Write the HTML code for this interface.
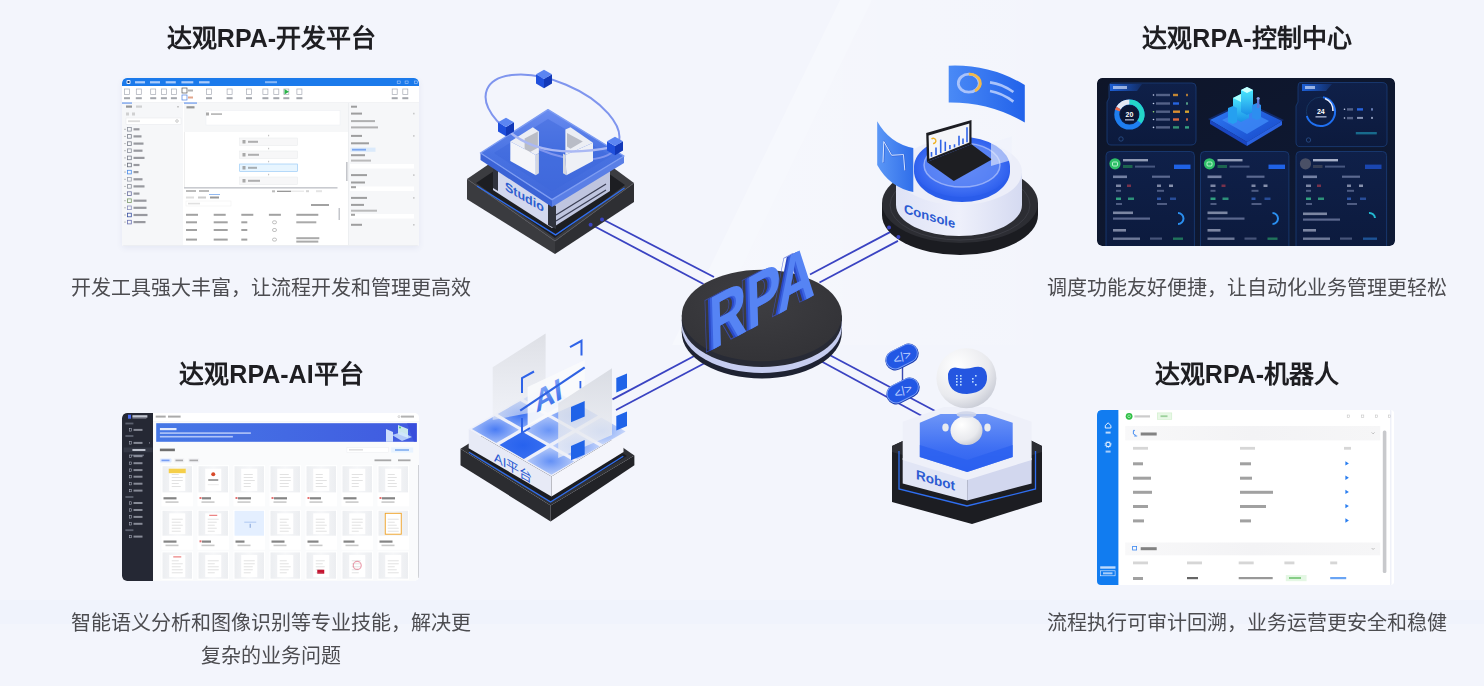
<!DOCTYPE html>
<html lang="zh-CN">
<head>
<meta charset="utf-8">
<style>
*{margin:0;padding:0;box-sizing:border-box;}
html,body{width:1484px;height:686px;overflow:hidden;background:#f3f5fc;}
body{font-family:"Liberation Sans",sans-serif;position:relative;}
.abs{position:absolute;}
.h{position:absolute;font-size:25px;line-height:25px;font-weight:bold;color:#1e1e22;text-align:center;white-space:nowrap;will-change:transform;}
.c{position:absolute;font-size:20px;line-height:33px;color:#4c4c50;text-align:center;white-space:nowrap;will-change:transform;}
.win{position:absolute;overflow:hidden;}
</style>
</head>
<body>
<div id="bg" class="abs" style="left:0;top:0;width:1484px;height:686px;"></div>
<!--CENTER-->
<svg class="abs" style="left:0;top:0" width="1484" height="686" viewBox="0 0 1484 686">
<defs>
  <linearGradient id="gBlackTop" x1="0" y1="0" x2="1" y2="1">
    <stop offset="0" stop-color="#3a3b41"/><stop offset="1" stop-color="#27282d"/>
  </linearGradient>
  <radialGradient id="gRpaTop" cx="0.45" cy="0.35" r="0.7">
    <stop offset="0" stop-color="#3e3e42"/><stop offset="1" stop-color="#323236"/>
  </radialGradient>
  <linearGradient id="gSlab" x1="0" y1="0" x2="0" y2="1">
    <stop offset="0" stop-color="#6a8cf0"/><stop offset="0.5" stop-color="#4872e2"/><stop offset="1" stop-color="#4068da"/>
  </linearGradient>
  <linearGradient id="gBluePanel" x1="0" y1="0" x2="1" y2="0">
    <stop offset="0" stop-color="#4a8af6"/><stop offset="1" stop-color="#2262ea"/>
  </linearGradient>
  <radialGradient id="gBlueDisc" cx="0.5" cy="0.5" r="0.5">
    <stop offset="0" stop-color="#5d86f6"/><stop offset="0.8" stop-color="#3c6cf2"/><stop offset="1" stop-color="#2f60ee"/>
  </radialGradient>
  <linearGradient id="gWhiteCyl" x1="0" y1="0" x2="1" y2="0">
    <stop offset="0" stop-color="#dfe3f6"/><stop offset="0.5" stop-color="#eef0fb"/><stop offset="1" stop-color="#d5daf1"/>
  </linearGradient>
  <radialGradient id="gHead" cx="0.35" cy="0.3" r="0.75">
    <stop offset="0" stop-color="#ffffff"/><stop offset="0.7" stop-color="#e9eaee"/><stop offset="1" stop-color="#c9ccd6"/>
  </radialGradient>
  <linearGradient id="gHexBlue" x1="0" y1="0" x2="0" y2="1">
    <stop offset="0" stop-color="#6d95f7"/><stop offset="0.6" stop-color="#3e6ff3"/><stop offset="1" stop-color="#2c60f0"/>
  </linearGradient>
  <linearGradient id="gGlass" x1="0" y1="0" x2="1" y2="1">
    <stop offset="0" stop-color="#eef0f6" stop-opacity="0.95"/><stop offset="1" stop-color="#dfe3ee" stop-opacity="0.85"/>
  </linearGradient>
  <linearGradient id="gCube" x1="0" y1="0" x2="1" y2="1">
    <stop offset="0" stop-color="#8fb0ff"/><stop offset="1" stop-color="#3366ee"/>
  </linearGradient>
</defs>

<!-- background light diagonal band -->
<linearGradient id="gBand" x1="0" y1="0" x2="1" y2="0"><stop offset="0" stop-color="#ffffff" stop-opacity="0.25"/><stop offset="0.5" stop-color="#ffffff" stop-opacity="0.1"/><stop offset="1" stop-color="#ffffff" stop-opacity="0"/></linearGradient>
<polygon points="672,345 840,0 872,0 704,345" fill="#ffffff" opacity="0.3"/>
<polygon points="704,345 872,0 1120,0 1120,345" fill="url(#gBand)"/>
<rect x="0" y="600" width="1484" height="24" fill="#e8eefb" opacity="0.25"/>

<!-- connection lines -->
<g stroke="#3a43c2" stroke-width="1.8" fill="none">
  <line x1="591" y1="224.5" x2="703.5" y2="284"/>
  <line x1="602" y1="219" x2="714" y2="277"/>
  <line x1="810" y1="274.5" x2="891" y2="231.6"/>
  <line x1="819.5" y1="282.5" x2="898" y2="240.9"/>
  <line x1="698" y1="354" x2="612.5" y2="399.4"/>
  <line x1="708.7" y1="361" x2="616" y2="410"/>
  <line x1="817" y1="359" x2="922" y2="416"/>
  <line x1="827.7" y1="354" x2="937" y2="412"/>
</g>

<!-- ================= STUDIO ================= -->
<g id="studio">
  <!-- black base -->
  <polygon points="467,179 555,241 555,254 467,199.3" fill="#3a3b3f"/>
  <polygon points="555,241 634,183 634,202 555,254" fill="#2e2f33"/>
  <polygon points="467,179 551,122 634,183 555,241" fill="#3b3c40"/>
  <polygon points="476,183 551,133 625,185 555,238" fill="#1d1e22"/>
  <polyline points="467.5,179.3 555,241 633.5,183.3" fill="none" stroke="#55565c" stroke-width="0.8"/>
  <polyline points="477,186 555.6,234.9 624.5,188" fill="none" stroke="#2f6ef0" stroke-width="1.3"/>
  <!-- building -->
  <polygon points="493,160 552,198 552,228 493,190" fill="#d3d8ee"/>
  <polygon points="552,198 610,161 610,191 552,228" fill="#bfc5df"/>
  <g stroke="#3b3f55" stroke-width="1.3">
    <line x1="556" y1="215" x2="606" y2="184"/>
    <line x1="556" y1="221" x2="606" y2="190"/>
  </g>
  <polygon points="548,202 556,206 556,229 548,225" fill="#30333d"/>
  <polygon points="493,165 498,168 498,191 493,188" fill="#30333d"/>
  <text x="0" y="0" font-family="Liberation Sans" font-weight="bold" font-size="12.5" fill="#2d5ed0" transform="matrix(1,0.58,0,1,505,190)">Studio</text>
  <!-- blue slab -->
  <polygon points="480.5,153 552,199.7 552,207 480.5,160" fill="#3b63d6"/>
  <polygon points="552,199.7 624,156 624,163 552,207" fill="#5a7fe6"/>
  <polygon points="480.5,153 548,109.6 624,156 552,199.7" fill="url(#gSlab)" stroke="#7d9cf2" stroke-width="1.4" stroke-linejoin="round"/>
  <polygon points="494,153 548,119 611,156 552,191" fill="#3d67dc" opacity="0.5"/>
  <!-- orbit back half -->
  <ellipse cx="552.5" cy="117" rx="71" ry="35" transform="rotate(22.8 552.5 117)" fill="none" stroke="#7f95ee" stroke-width="2"/>
  <!-- left U block -->
  <polygon points="510.3,141.6 532.8,127.3 538.9,131.4 538.9,152.9 535.8,154.9" fill="#eceef4"/>
  <polygon points="524.6,138.6 537.9,131.4 537.9,147.8 524.6,155" fill="#b9bcc6"/>
  <polygon points="510.3,141.6 535.8,154.9 535.8,175.3 510.3,161" fill="#f4f5f9"/>
  <polygon points="535.8,154.9 538.9,152.9 538.9,173.3 535.8,175.3" fill="#d4d7e0"/>
  <!-- right U block -->
  <polygon points="565.4,129.4 570.5,127.3 593,142.7 565.4,154.9" fill="#eceef4"/>
  <polygon points="567,133 582.8,141.6 570.5,148.8 567,146.5" fill="#b9bcc6"/>
  <polygon points="565.4,154.9 593,142.7 593,161 566.4,175.3" fill="#eef0f6"/>
  <polygon points="563,153.5 565.4,154.9 566.4,175.3 563,173.3" fill="#d4d7e0"/>
  <!-- orbit front arc -->
  <path d="M 506,128.5 Q 540,162 614.8,146.6" fill="none" stroke="#aab8f4" stroke-width="2.4"/>
  <!-- cubes -->
  <g>
    <polygon points="536,74.36 544,79 544,88.2 536,83.56" fill="#1f4fdc"/>
    <polygon points="544,79 552,74.36 552,83.56 544,88.2" fill="#1238b8"/>
    <polygon points="536,74.36 544,69.72 552,74.36 544,79" fill="#5b85f2"/>
    <polygon points="498,122.36 506,127 506,136.2 498,131.56" fill="#1f4fdc"/>
    <polygon points="506,127 514,122.36 514,131.56 506,136.2" fill="#1238b8"/>
    <polygon points="498,122.36 506,117.72 514,122.36 506,127" fill="#5b85f2"/>
    <polygon points="607,141.36 615,146 615,155.2 607,150.56" fill="#1f4fdc"/>
    <polygon points="615,146 623,141.36 623,150.56 615,155.2" fill="#1238b8"/>
    <polygon points="607,141.36 615,136.72 623,141.36 615,146" fill="#5b85f2"/>
  </g>
  <circle cx="590.6" cy="224.8" r="2" fill="#3a43c2"/>
  <circle cx="602" cy="219.6" r="2" fill="#3a43c2"/>
</g>

<!-- ================= RPA disc ================= -->
<g id="rpa">
  <ellipse cx="761.8" cy="332.7" rx="80" ry="45.8" fill="#1e2232"/>
  <rect x="681.8" y="327.2" width="160" height="5.5" fill="#1e2232"/>
  <ellipse cx="761.8" cy="327.2" rx="80" ry="45.8" fill="#c6cdf0"/>
  <rect x="681.8" y="321.1" width="160" height="6.1" fill="#c6cdf0"/>
  <ellipse cx="761.8" cy="321.1" rx="80" ry="45.8" fill="#272a35"/>
  <rect x="681.8" y="315.5" width="160" height="5.6" fill="#272a35"/>
  <ellipse cx="761.8" cy="315.5" rx="80" ry="45.8" fill="url(#gRpaTop)"/>
  <!-- letters: extrusion -->
  <g font-family="Liberation Sans" font-weight="bold" font-size="75">
    <text transform="matrix(0.69,-0.37,0.03,1,703,354)" fill="none" stroke="#3b55d6" stroke-width="1" opacity="0.7">RPA</text>
    <text transform="matrix(0.69,-0.37,0.03,1,706,353)" fill="#2a48c4">RPA</text>
    <text transform="matrix(0.69,-0.37,0.03,1,708,352)" fill="#3a62e0">RPA</text>
    <text transform="matrix(0.69,-0.37,0.03,1,710,351)" fill="#5684f4">RPA</text>
  </g>
</g>

<!-- ================= CONSOLE ================= -->
<g id="console">
  <ellipse cx="960" cy="215" rx="78" ry="40" fill="#1b1c21"/>
  <rect x="882" y="203" width="156" height="12" fill="#1b1c21"/>
  <ellipse cx="960" cy="203" rx="78" ry="40" fill="#2c2d33"/>
  <ellipse cx="960" cy="205" rx="70" ry="35" fill="none" stroke="#3b3c44" stroke-width="1"/>
  <!-- white cylinder -->
  <ellipse cx="959" cy="205" rx="63" ry="31" fill="url(#gWhiteCyl)"/>
  <rect x="896" y="173" width="126" height="32" fill="url(#gWhiteCyl)"/>
  <ellipse cx="959" cy="172" rx="63" ry="33" fill="#eceef9"/>
  <ellipse cx="962" cy="171" rx="48" ry="31" fill="#2a5cea"/>
  <ellipse cx="962" cy="167" rx="48" ry="30" fill="url(#gBlueDisc)"/>
  <ellipse cx="962" cy="165" rx="38" ry="22" fill="#6a90f6" opacity="0.55"/>
  <ellipse cx="962" cy="165" rx="38" ry="22" fill="none" stroke="#dfe6ff" stroke-width="1.5" opacity="0.5"/>
  <text x="0" y="0" font-family="Liberation Sans" font-weight="bold" font-size="13" fill="#2c5bd2" transform="matrix(1,0.3,0,1,904,213)">Console</text>
  <!-- laptop -->
  <polygon points="927,162 971.5,144.3 991.9,159.4 953.8,181" fill="#1d1e22"/>
  <polygon points="926.2,133 971.5,120 971.5,144.3 927,162" fill="#1c1d22"/>
  <polygon points="928.6,135.5 969.3,123.6 969.3,142.6 929.3,158.8" fill="#f4f5f8"/>
  <g stroke="#2f63e6" stroke-width="1.6">
    <line x1="931.5" y1="156.7" x2="931.5" y2="152"/>
    <line x1="936" y1="154.9" x2="936" y2="147.6"/>
    <line x1="940.7" y1="153.0" x2="940.7" y2="139.7"/>
    <line x1="945.3" y1="151.1" x2="945.3" y2="141.7"/>
    <line x1="949.9" y1="149.3" x2="949.9" y2="145"/>
    <line x1="954.5" y1="147.4" x2="954.5" y2="144.3"/>
    <line x1="959" y1="145.6" x2="959" y2="135.7"/>
    <line x1="963" y1="144.0" x2="963" y2="138.4"/>
    <line x1="967" y1="142.3" x2="967" y2="127.2"/>
  </g>
  <path d="M 931.5,139 a 2.6 2.6 0 1 1 1.5,4.5" stroke="#f0b429" stroke-width="1.4" fill="none"/>
  <!-- right glass panel -->
  <polygon points="991,143 1011.6,136.6 1011.6,160 991,166" fill="#eef1fb" opacity="0.6"/>
  <!-- floating top-right panel -->
  <path d="M 948.7,65.7 Q 990,64 1024.8,85 L 1024.8,122.6 Q 990,102 948.7,102.5 Z" fill="url(#gBluePanel)"/>
  <ellipse cx="968.8" cy="83.2" rx="10.5" ry="9" fill="none" stroke="#a9c3fb" stroke-width="2.8"/>
  <path d="M 968.8,74.2 A 10.5 9 0 0 1 975,91" fill="none" stroke="#f2b94a" stroke-width="2.8"/>
  <g stroke="#a9c3fb" stroke-width="2.6" fill="none">
    <path d="M 990,82.4 Q 1002,84 1013.4,92"/>
    <path d="M 990,91 Q 1002,93 1013.4,101.6"/>
  </g>
  <!-- floating left panel -->
  <linearGradient id="gMpanel" x1="0" y1="0" x2="1" y2="0"><stop offset="0" stop-color="#5b97f6"/><stop offset="1" stop-color="#2f6eea"/></linearGradient>
  <path d="M 877.2,121.2 Q 889.4,143.2 913.3,148 L 913.3,192 Q 889.4,187.2 877.2,165 Z" fill="url(#gMpanel)"/>
  <path d="M 883.6,163 L 884.4,142 L 892.3,155.8 L 904.1,155.1 L 905.4,170.9" fill="none" stroke="#2556d0" stroke-width="1.2" opacity="0.8"/>
  <path d="M 883,162.5 L 883.8,141.5 L 891.7,155.3 L 903.5,154.6 L 904.8,170.4" fill="none" stroke="#d6e4ff" stroke-width="1"/>
  <circle cx="889" cy="227.6" r="2" fill="#3a43c2"/>
  <circle cx="898.4" cy="237" r="2" fill="#3a43c2"/>
</g>

<!-- ================= AI PLATFORM ================= -->
<g id="ai">
  <!-- black base -->
  <polygon points="460.5,448.7 550.6,505.5 550.6,521.4 460.5,465.3" fill="#2b2c30"/>
  <polygon points="550.6,505.5 634.4,455.6 634.4,465.3 550.6,521.4" fill="#222327"/>
  <polygon points="460.5,448.7 547,395 634.4,455.6 550.6,505.5" fill="#303135"/>
  <polygon points="468,450 547,402 627,456 550.6,501" fill="#1c1d21"/>
  <polyline points="468.9,452.2 550.6,502 623.3,456.3" fill="none" stroke="#2f6ef0" stroke-width="1.3"/>
  <!-- white slab -->
  <polygon points="468.7,429.1 551.5,476.5 551.5,496.5 468.7,448.3" fill="#e7eaf6"/>
  <polygon points="551.5,476.5 623.5,432.8 623.5,452 551.5,496.5" fill="#f4f5fb"/>
  <polygon points="468.7,429.1 546,384 623.5,432.8 551.5,476.5" fill="#eef0fa"/>
  <!-- cube grid (3x3) -->
  <defs>
    <radialGradient id="t00" cx="0.5" cy="0.5" r="0.6"><stop offset="0" stop-color="#4a7cf4"/><stop offset="1" stop-color="#b3c8f9"/></radialGradient>
    <radialGradient id="t01" cx="0.5" cy="0.5" r="0.6"><stop offset="0" stop-color="#2762ee"/><stop offset="1" stop-color="#3a70f0"/></radialGradient>
    <radialGradient id="t02" cx="0.5" cy="0.5" r="0.6"><stop offset="0" stop-color="#6390f6"/><stop offset="1" stop-color="#c5d5fa"/></radialGradient>
    <radialGradient id="t10" cx="0.5" cy="0.5" r="0.6"><stop offset="0" stop-color="#3a70f2"/><stop offset="1" stop-color="#95b4f8"/></radialGradient>
    <radialGradient id="t11" cx="0.5" cy="0.5" r="0.6"><stop offset="0" stop-color="#6a95f6"/><stop offset="1" stop-color="#b8cbf9"/></radialGradient>
    <radialGradient id="t12" cx="0.5" cy="0.5" r="0.6"><stop offset="0" stop-color="#7aa0f7"/><stop offset="1" stop-color="#cfdbfa"/></radialGradient>
    <radialGradient id="t20" cx="0.5" cy="0.5" r="0.6"><stop offset="0" stop-color="#7099f6"/><stop offset="1" stop-color="#c0d0f9"/></radialGradient>
    <radialGradient id="t21" cx="0.5" cy="0.5" r="0.6"><stop offset="0" stop-color="#4d80f4"/><stop offset="1" stop-color="#a8c0f9"/></radialGradient>
    <radialGradient id="t22" cx="0.5" cy="0.5" r="0.6"><stop offset="0" stop-color="#86aaf8"/><stop offset="1" stop-color="#d6e0fa"/></radialGradient>
  </defs>
  <polygon points="471.9,429.1 494.6,415.9 518.9,429.8 496.2,443.1" fill="url(#t00)"/>
  <polygon points="499.5,444.9 522.2,431.7 546.5,445.6 523.8,458.9" fill="url(#t01)"/>
  <polygon points="527.1,460.7 549.8,447.5 574.1,461.4 551.4,474.7" fill="url(#t02)"/>
  <polygon points="497.7,414.1 520.3,400.9 544.6,414.8 522.0,428.0" fill="url(#t10)"/>
  <polygon points="525.3,429.9 547.9,416.7 572.2,430.6 549.6,443.8" fill="url(#t11)"/>
  <polygon points="552.9,445.7 575.5,432.5 599.8,446.4 577.2,459.6" fill="url(#t12)"/>
  <polygon points="523.4,399.1 546.1,385.8 570.4,399.8 547.7,413.0" fill="url(#t20)"/>
  <polygon points="551.0,414.9 573.7,401.6 598.0,415.6 575.3,428.8" fill="url(#t21)"/>
  <polygon points="578.6,430.7 601.3,417.4 625.6,431.4 602.9,444.6" fill="url(#t22)"/>
  <linearGradient id="gPanelA" x1="0" y1="0" x2="0" y2="1"><stop offset="0" stop-color="#dcdee4" stop-opacity="0.95"/><stop offset="1" stop-color="#eceef3" stop-opacity="0.55"/></linearGradient>
  <linearGradient id="gPanelC" x1="0" y1="0" x2="0" y2="1"><stop offset="0" stop-color="#d8dbe2" stop-opacity="0.95"/><stop offset="1" stop-color="#eef0f5" stop-opacity="0.75"/></linearGradient>
  <linearGradient id="gAItext" x1="0" y1="0" x2="0" y2="1"><stop offset="0" stop-color="#8fb0f8"/><stop offset="1" stop-color="#2c64e8"/></linearGradient>
  <polygon points="492.7,367.3 545.6,333.5 545.6,410 492.7,420" fill="url(#gPanelA)"/>
  <polygon points="527.6,387 584.7,360 584.7,400 527.6,426" fill="#f9fafc" opacity="0.93"/>
  <text x="0" y="0" font-family="Liberation Sans" font-weight="bold" font-size="30" fill="url(#gAItext)" transform="matrix(0.9,-0.5,0.12,1,536,413)">AI</text>
  <line x1="520.2" y1="410.6" x2="584.7" y2="367.3" stroke="#2f62e2" stroke-width="2.2"/>
  <polyline points="522,393 522,378 534,371.5" fill="none" stroke="#2e63e8" stroke-width="2"/>
  <polyline points="570,347.2 581.5,340.8 581.5,355.6" fill="none" stroke="#2e63e8" stroke-width="2"/>
  <polyline points="522,418 522,432.8 530,428" fill="none" stroke="#2e63e8" stroke-width="2"/>
  <line x1="580.4" y1="381" x2="580.4" y2="388.4" stroke="#2e63e8" stroke-width="1.8"/>
  <polygon points="558.2,403.2 612,368.3 612,434.9 558.2,458" fill="url(#gPanelC)"/>
  <!-- blue squares -->
  <g fill="#1f63e8">
    <polygon points="616.3,378 627,373.6 627,388 616.3,392.6"/>
    <polygon points="616.3,416 627,411.6 627,426 616.3,430.6"/>
    <polygon points="571,407 584.7,401 584.7,416.5 571,422.2"/>
    <polygon points="571,446 584.7,440 584.7,454.5 571,460.2"/>
  </g>
  <text x="0" y="0" font-family="Liberation Sans" font-size="13" fill="#2c5bd2" transform="matrix(1,0.58,0,1,494,461)">AI平台</text>
</g>

<!-- ================= ROBOT ================= -->
<g id="robot">
  <polygon points="892,446 905,440 1030,440 1042,446 1042,502 972,524 892,502" fill="#1c1d22"/>
  <polygon points="892,446 905,440 1030,440 1042,446 1042,452 972,474 892,452" fill="#2c2d33"/>
  <polyline points="899,451 899,489 967,506 1035.5,489 1035.5,451" fill="none" stroke="#2f6ef0" stroke-width="1.3"/>
  <!-- white base lower faces -->
  <polygon points="902.7,458 967.2,478 967.2,500.5 902.7,483.4" fill="#e1e5f5"/>
  <polygon points="967.2,478 1031.6,458 1031.6,483.4 967.2,500.5" fill="#d2d7ee"/>
  <!-- glass walls & top -->
  <polygon points="902.7,421.8 944,407 990,407 1031.6,421.8 1031.6,460 967.2,480 902.7,460" fill="#eef0f9"/>
  <polygon points="919.8,422.7 940.6,414 986,414 1012.7,422.7 1012.7,457 967.2,472 919.8,457" fill="url(#gHexBlue)"/>
  <polygon points="919.8,445 967.2,460 1012.7,445 1012.7,457 967.2,472 919.8,457" fill="#2a5ff0" opacity="0.7"/>
  <text x="0" y="0" font-family="Liberation Sans" font-weight="bold" font-size="13.5" fill="#2c5bd2" transform="matrix(1,0.3,0,1,916,479)">Robot</text>
  <!-- robot body -->
  <ellipse cx="945.5" cy="427.5" rx="3.2" ry="4" fill="#e9ebf0"/>
  <ellipse cx="987.5" cy="427.5" rx="3.2" ry="4" fill="#e9ebf0"/>
  <ellipse cx="966.5" cy="430.5" rx="16" ry="14.5" fill="url(#gHead)"/>
  <ellipse cx="966.5" cy="414.5" rx="10" ry="3.2" fill="#cfd6ea" opacity="0.9"/>
  <!-- head -->
  <circle cx="966.4" cy="378.3" r="30" fill="url(#gHead)"/>
  <path d="M 948,374 Q 950,366 958,368 Q 966,370 975,367 Q 986,365 987,376 Q 988,392 967,394 Q 947,394 948,374 Z" fill="#2456e0"/>
  <g fill="#bfe0ff">
    <rect x="956" y="375" width="1.6" height="1.6"/><rect x="956" y="378" width="1.6" height="1.6"/><rect x="956" y="381" width="1.6" height="1.6"/><rect x="956" y="384" width="1.6" height="1.6"/>
    <rect x="960" y="375" width="1.6" height="1.6"/><rect x="960" y="378" width="1.6" height="1.6"/><rect x="960" y="381" width="1.6" height="1.6"/><rect x="960" y="384" width="1.6" height="1.6"/>
    <rect x="975" y="375" width="1.6" height="1.6"/><rect x="972" y="378" width="1.6" height="1.6"/><rect x="972" y="381" width="1.6" height="1.6"/><rect x="975" y="384" width="1.6" height="1.6"/>
  </g>
  <!-- code badges -->
  <line x1="902.5" y1="360" x2="902.5" y2="388" stroke="#3a48b0" stroke-width="1.4"/>
  <g transform="rotate(-27 902 357)">
    <rect x="884.5" y="347" width="35" height="20" rx="10" fill="#1a3cae"/>
    <rect x="885.5" y="347.5" width="33" height="18" rx="9" fill="#2257e4" stroke="#7ea2f8" stroke-width="0.9"/>
    <text x="902" y="361.5" font-family="Liberation Sans" font-size="13" fill="#b9cdff" text-anchor="middle">&lt;/&gt;</text>
  </g>
  <g transform="rotate(-27 903 391)">
    <rect x="885.5" y="381" width="35" height="20" rx="10" fill="#1a3cae"/>
    <rect x="886.5" y="381.5" width="33" height="18" rx="9" fill="#2257e4" stroke="#7ea2f8" stroke-width="0.9"/>
    <text x="903" y="395.5" font-family="Liberation Sans" font-size="13" fill="#b9cdff" text-anchor="middle">&lt;/&gt;</text>
  </g>
</g>
</svg>

<!--/CENTER-->

<div class="h" id="h1" style="left:71px;top:25.5px;width:401px;">达观RPA-开发平台</div>
<div class="h" id="h2" style="left:71px;top:361.5px;width:401px;">达观RPA-AI平台</div>
<div class="h" id="h3" style="left:1046.5px;top:25.5px;width:400px;">达观RPA-控制中心</div>
<div class="h" id="h4" style="left:1046.5px;top:361.5px;width:400px;">达观RPA-机器人</div>

<div class="c" id="c1" style="left:71px;top:272px;width:400px;">开发工具强大丰富，让流程开发和管理更高效</div>
<div class="c" id="c2" style="left:71px;top:607px;width:400px;">智能语义分析和图像识别等专业技能，解决更<br>复杂的业务问题</div>
<div class="c" id="c3" style="left:1047px;top:272px;width:400px;">调度功能友好便捷，让自动化业务管理更轻松</div>
<div class="c" id="c4" style="left:1047px;top:607px;width:400px;">流程执行可审计回溯，业务运营更安全和稳健</div>

<!-- window 1: dev studio -->
<div class="win" id="w1" style="left:122px;top:78px;width:297px;height:168px;background:#fff;border-radius:5px 5px 2px 2px;box-shadow:0 2px 6px rgba(60,80,140,0.08);">
<svg width="297" height="168" viewBox="0 0 297 168" style="display:block">
<rect x="0" y="0" width="297" height="168" fill="#ffffff"/>
<path d="M0,5 Q0,0 5,0 H292 Q297,0 297,5 V8 H0 Z" fill="#1b7aeb"/>
<rect x="4.5" y="2" width="4" height="4" rx="1" fill="#e8f0ff"/><rect x="5.5" y="3" width="2" height="2" fill="#1d3a70"/>
<rect x="13" y="3.2" width="10" height="2.2" fill="#cfe0ff" opacity="0.8"/>
<rect x="28" y="3.2" width="10" height="2.2" fill="#cfe0ff" opacity="0.8"/>
<rect x="43.7" y="3.2" width="10.099999999999994" height="2.2" fill="#cfe0ff" opacity="0.8"/>
<rect x="59.4" y="3.2" width="11.899999999999999" height="2.2" fill="#cfe0ff" opacity="0.8"/>
<rect x="77" y="3.2" width="10.599999999999994" height="2.2" fill="#cfe0ff" opacity="0.8"/>
<rect x="143" y="3.2" width="12" height="2" fill="#cfe0ff" opacity="0.6"/>
<rect x="275.2" y="3" width="3" height="2.5" fill="none" stroke="#cfe0ff" stroke-width="0.6" opacity="0.8"/>
<rect x="283.1" y="3" width="3" height="2.5" fill="none" stroke="#cfe0ff" stroke-width="0.6" opacity="0.8"/>
<rect x="292.3" y="3" width="3" height="2.5" fill="none" stroke="#cfe0ff" stroke-width="0.6" opacity="0.8"/>
<rect x="2.5" y="11" width="5" height="5.5" fill="none" stroke="#8a8f9c" stroke-width="0.7" opacity="0.75"/>
<rect x="2" y="19.2" width="6" height="2" fill="#5a5f6a" opacity="0.55"/>
<rect x="14.3" y="11" width="5" height="5.5" fill="none" stroke="#8a8f9c" stroke-width="0.7" opacity="0.75"/>
<rect x="13.8" y="19.2" width="6" height="2" fill="#5a5f6a" opacity="0.55"/>
<rect x="28.7" y="11" width="5" height="5.5" fill="none" stroke="#8a8f9c" stroke-width="0.7" opacity="0.75"/>
<rect x="28.2" y="19.2" width="6" height="2" fill="#5a5f6a" opacity="0.55"/>
<rect x="39.4" y="11" width="5" height="5.5" fill="none" stroke="#8a8f9c" stroke-width="0.7" opacity="0.75"/>
<rect x="38.9" y="19.2" width="6" height="2" fill="#5a5f6a" opacity="0.55"/>
<rect x="49.4" y="11" width="5" height="5.5" fill="none" stroke="#8a8f9c" stroke-width="0.7" opacity="0.75"/>
<rect x="48.9" y="19.2" width="6" height="2" fill="#5a5f6a" opacity="0.55"/>
<rect x="84.5" y="11" width="5" height="5.5" fill="none" stroke="#8a8f9c" stroke-width="0.7" opacity="0.75"/>
<rect x="84" y="19.2" width="6" height="2" fill="#5a5f6a" opacity="0.55"/>
<rect x="105.1" y="11" width="5" height="5.5" fill="none" stroke="#8a8f9c" stroke-width="0.7" opacity="0.75"/>
<rect x="104.6" y="19.2" width="6" height="2" fill="#5a5f6a" opacity="0.55"/>
<rect x="124.5" y="11" width="5" height="5.5" fill="none" stroke="#8a8f9c" stroke-width="0.7" opacity="0.75"/>
<rect x="124" y="19.2" width="6" height="2" fill="#5a5f6a" opacity="0.55"/>
<rect x="140.9" y="11" width="5" height="5.5" fill="none" stroke="#8a8f9c" stroke-width="0.7" opacity="0.75"/>
<rect x="140.4" y="19.2" width="6" height="2" fill="#5a5f6a" opacity="0.55"/>
<rect x="151.8" y="11" width="5" height="5.5" fill="none" stroke="#8a8f9c" stroke-width="0.7" opacity="0.75"/>
<rect x="151.3" y="19.2" width="6" height="2" fill="#5a5f6a" opacity="0.55"/>
<rect x="161.8" y="11" width="5" height="5.5" fill="none" stroke="#8a8f9c" stroke-width="0.7" opacity="0.75"/>
<rect x="161.3" y="19.2" width="6" height="2" fill="#5a5f6a" opacity="0.55"/>
<rect x="174.9" y="11" width="5" height="5.5" fill="none" stroke="#8a8f9c" stroke-width="0.7" opacity="0.75"/>
<rect x="174.4" y="19.2" width="6" height="2" fill="#5a5f6a" opacity="0.55"/>
<rect x="270.2" y="11" width="5" height="5.5" fill="none" stroke="#8a8f9c" stroke-width="0.7" opacity="0.75"/>
<rect x="269.7" y="19.2" width="6" height="2" fill="#5a5f6a" opacity="0.55"/>
<rect x="280.8" y="11" width="5" height="5.5" fill="none" stroke="#8a8f9c" stroke-width="0.7" opacity="0.75"/>
<rect x="280.3" y="19.2" width="6" height="2" fill="#5a5f6a" opacity="0.55"/>
<polygon points="162.5,11 162.5,16.5 167,13.75" fill="#2bb34a"/>
<rect x="60" y="10" width="5" height="5" fill="none" stroke="#555" stroke-width="0.7"/><rect x="66" y="11.5" width="5" height="2" fill="#666" opacity="0.5"/>
<rect x="60" y="17" width="5" height="5" fill="none" stroke="#4a7ee0" stroke-width="0.7"/><rect x="66" y="18.5" width="5" height="2" fill="#d06a40" opacity="0.6"/>
<rect x="0" y="24.5" width="297" height="0.6" fill="#e6e8ec"/>
<rect x="0" y="25" width="61" height="143" fill="#f6f7f9"/>
<rect x="0" y="24.6" width="10" height="0.9" fill="#3a78e8"/>
<rect x="4" y="27.5" width="6" height="2.2" fill="#555" opacity="0.6"/><rect x="14" y="27.5" width="6" height="2.2" fill="#999" opacity="0.4"/><rect x="55" y="28" width="2" height="1.5" fill="#999" opacity="0.5"/>
<rect x="4" y="34.5" width="3" height="3" fill="#aaa" opacity="0.5"/><rect x="10" y="34.5" width="3" height="3" fill="#aaa" opacity="0.5"/>
<rect x="4" y="40" width="55" height="6.5" fill="#ffffff" stroke="#e6e8ec" stroke-width="0.5"/><rect x="6" y="42.3" width="12" height="1.8" fill="#bbb" opacity="0.5"/><circle cx="55" cy="43" r="1.3" fill="none" stroke="#999" stroke-width="0.5"/>
<rect x="2.5" y="50.8" width="1" height="1" fill="#888"/>
<rect x="5.5" y="49.5" width="3.8" height="3.6" fill="none" stroke="#8a8f9c" stroke-width="0.8"/>
<rect x="11.5" y="50.2" width="6" height="2.2" fill="#4a4d55" opacity="0.55"/>
<rect x="2.5" y="57.9" width="1" height="1" fill="#888"/>
<rect x="5.5" y="56.6" width="3.8" height="3.6" fill="none" stroke="#7a7f8c" stroke-width="0.8"/>
<rect x="11.5" y="57.3" width="8" height="2.2" fill="#4a4d55" opacity="0.55"/>
<rect x="2.5" y="65.1" width="1" height="1" fill="#888"/>
<rect x="5.5" y="63.8" width="3.8" height="3.6" fill="none" stroke="#7a7f8c" stroke-width="0.8"/>
<rect x="11.5" y="64.5" width="10" height="2.2" fill="#4a4d55" opacity="0.55"/>
<rect x="2.5" y="72.2" width="1" height="1" fill="#888"/>
<rect x="5.5" y="70.9" width="3.8" height="3.6" fill="none" stroke="#8a8f9c" stroke-width="0.8"/>
<rect x="11.5" y="71.6" width="9" height="2.2" fill="#4a4d55" opacity="0.55"/>
<rect x="2.5" y="79.4" width="1" height="1" fill="#888"/>
<rect x="5.5" y="78.1" width="3.8" height="3.6" fill="none" stroke="#7a7f8c" stroke-width="0.8"/>
<rect x="11.5" y="78.8" width="11" height="2.2" fill="#4a4d55" opacity="0.55"/>
<rect x="2.5" y="86.5" width="1" height="1" fill="#888"/>
<rect x="5.5" y="85.2" width="3.8" height="3.6" fill="none" stroke="#6a6f7c" stroke-width="0.8"/>
<rect x="11.5" y="85.9" width="6" height="2.2" fill="#4a4d55" opacity="0.55"/>
<rect x="2.5" y="93.6" width="1" height="1" fill="#888"/>
<rect x="5.5" y="92.3" width="3.8" height="3.6" fill="none" stroke="#4a8ae8" stroke-width="0.8"/>
<rect x="11.5" y="93.0" width="5" height="2.2" fill="#4a4d55" opacity="0.55"/>
<rect x="2.5" y="100.8" width="1" height="1" fill="#888"/>
<rect x="5.5" y="99.5" width="3.8" height="3.6" fill="none" stroke="#9a9fac" stroke-width="0.8"/>
<rect x="11.5" y="100.2" width="9" height="2.2" fill="#4a4d55" opacity="0.55"/>
<rect x="2.5" y="107.9" width="1" height="1" fill="#888"/>
<rect x="5.5" y="106.6" width="3.8" height="3.6" fill="none" stroke="#8a8f9c" stroke-width="0.8"/>
<rect x="11.5" y="107.3" width="11" height="2.2" fill="#4a4d55" opacity="0.55"/>
<rect x="2.5" y="115.1" width="1" height="1" fill="#888"/>
<rect x="5.5" y="113.8" width="3.8" height="3.6" fill="none" stroke="#6a6fa0" stroke-width="0.8"/>
<rect x="11.5" y="114.5" width="6" height="2.2" fill="#4a4d55" opacity="0.55"/>
<rect x="2.5" y="122.2" width="1" height="1" fill="#888"/>
<rect x="5.5" y="120.9" width="3.8" height="3.6" fill="none" stroke="#7a9a6c" stroke-width="0.8"/>
<rect x="11.5" y="121.6" width="13" height="2.2" fill="#4a4d55" opacity="0.55"/>
<rect x="2.5" y="129.3" width="1" height="1" fill="#888"/>
<rect x="5.5" y="128.0" width="3.8" height="3.6" fill="none" stroke="#8a8fbc" stroke-width="0.8"/>
<rect x="11.5" y="128.7" width="13" height="2.2" fill="#4a4d55" opacity="0.55"/>
<rect x="2.5" y="136.5" width="1" height="1" fill="#888"/>
<rect x="5.5" y="135.2" width="3.8" height="3.6" fill="none" stroke="#3a50a0" stroke-width="0.8"/>
<rect x="11.5" y="135.9" width="14" height="2.2" fill="#4a4d55" opacity="0.55"/>
<rect x="2.5" y="143.6" width="1" height="1" fill="#888"/>
<rect x="5.5" y="142.3" width="3.8" height="3.6" fill="none" stroke="#6a70b0" stroke-width="0.8"/>
<rect x="11.5" y="143.0" width="12" height="2.2" fill="#4a4d55" opacity="0.55"/>
<rect x="61" y="25" width="165" height="85" fill="#ffffff"/>
<rect x="62" y="25" width="164" height="29" fill="#f6f7f8"/>
<rect x="62" y="24.6" width="13" height="0.9" fill="#3a78e8"/>
<rect x="64.5" y="28.2" width="8" height="2.2" fill="#555" opacity="0.6"/>
<rect x="84" y="32.5" width="134" height="14.5" fill="#ffffff" stroke="#eceef1" stroke-width="0.5"/>
<rect x="84" y="34.5" width="3" height="3" fill="#888" opacity="0.7"/><rect x="89" y="35.2" width="11" height="1.8" fill="#777" opacity="0.5"/>
<rect x="62" y="54" width="1" height="56" fill="#eee"/>
<rect x="117.7" y="60" width="57.8" height="7.5" fill="#f7f7f8" stroke="#e8e9ec" stroke-width="0.5"/>
<rect x="120.5" y="62" width="3" height="3.5" fill="#888" opacity="0.7"/>
<rect x="126" y="62.8" width="10" height="2" fill="#666" opacity="0.5"/>
<rect x="146.3" y="56.8" width="0.8" height="1.5" fill="#aaa"/>
<rect x="117.7" y="73" width="57.8" height="7.5" fill="#f7f7f8" stroke="#e8e9ec" stroke-width="0.5"/>
<rect x="120.5" y="75" width="3" height="3.5" fill="#888" opacity="0.7"/>
<rect x="126" y="75.8" width="11" height="2" fill="#666" opacity="0.5"/>
<rect x="146.3" y="69.8" width="0.8" height="1.5" fill="#aaa"/>
<rect x="117.7" y="86" width="57.8" height="7.5" fill="#e7f5ff" stroke="#8cc4f5" stroke-width="0.6"/>
<rect x="120.5" y="88" width="3" height="3.5" fill="#888" opacity="0.7"/>
<rect x="126" y="88.8" width="9" height="2" fill="#666" opacity="0.5"/>
<rect x="146.3" y="82.8" width="0.8" height="1.5" fill="#aaa"/>
<rect x="117.7" y="99" width="57.8" height="7.5" fill="#f7f7f8" stroke="#e8e9ec" stroke-width="0.5"/>
<rect x="120.5" y="101" width="3" height="3.5" fill="#888" opacity="0.7"/>
<rect x="126" y="101.8" width="12" height="2" fill="#666" opacity="0.5"/>
<rect x="146.3" y="95.8" width="0.8" height="1.5" fill="#aaa"/>
<rect x="224" y="84" width="1.6" height="19" fill="#c4c6cb"/>
<rect x="62" y="109" width="153.5" height="1.6" fill="#c9cbd0"/>
<rect x="61" y="111" width="165" height="57" fill="#ffffff"/>
<rect x="64" y="112" width="10" height="2" fill="#777" opacity="0.5"/><rect x="77" y="112" width="10" height="2" fill="#777" opacity="0.5"/>
<rect x="150" y="112.3" width="3" height="2" fill="#777" opacity="0.5"/><rect x="155" y="112.8" width="14" height="0.8" fill="#555"/><rect x="169" y="112.8" width="13" height="0.6" fill="#ccc"/><rect x="184" y="112.2" width="3" height="2" fill="#999" opacity="0.4"/><rect x="194" y="112.2" width="6" height="2" fill="#bbb" opacity="0.4"/>
<rect x="64" y="118.5" width="8" height="2" fill="#bbb" opacity="0.5"/><rect x="76" y="118.5" width="8" height="2" fill="#999" opacity="0.5"/><rect x="88" y="118.5" width="9" height="2" fill="#555" opacity="0.6"/><rect x="87" y="116" width="11" height="0.6" fill="#4a8ae8"/>
<rect x="64" y="123" width="45" height="5" fill="#fff" stroke="#eee" stroke-width="0.5"/><rect x="66" y="124.8" width="12" height="1.6" fill="#ccc" opacity="0.6"/>
<rect x="189" y="126" width="18" height="2" fill="#555" opacity="0.55"/>
<rect x="64" y="135.8" width="12" height="2" fill="#555" opacity="0.55"/>
<rect x="91.7" y="135.8" width="12" height="2" fill="#555" opacity="0.55"/>
<rect x="119.3" y="135.8" width="12" height="2" fill="#555" opacity="0.55"/>
<rect x="146.9" y="135.8" width="12" height="2" fill="#555" opacity="0.55"/>
<rect x="174.3" y="135.8" width="22" height="2" fill="#555" opacity="0.55"/>
<rect x="64" y="143.3" width="11" height="2" fill="#555" opacity="0.55"/>
<rect x="91.7" y="143.3" width="14" height="2" fill="#555" opacity="0.55"/>
<rect x="119.3" y="143.3" width="6" height="2" fill="#555" opacity="0.55"/>
<rect x="150.5" y="142.8" width="4" height="3" rx="1.5" fill="#fff" stroke="#999" stroke-width="0.6"/>
<rect x="64" y="151" width="11" height="2" fill="#555" opacity="0.55"/>
<rect x="91.7" y="151" width="14" height="2" fill="#555" opacity="0.55"/>
<rect x="119.3" y="151" width="6" height="2" fill="#555" opacity="0.55"/>
<rect x="150.5" y="150.5" width="4" height="3" rx="1.5" fill="#fff" stroke="#999" stroke-width="0.6"/>
<rect x="64" y="160.6" width="11" height="2" fill="#555" opacity="0.55"/>
<rect x="91.7" y="160.6" width="14" height="2" fill="#555" opacity="0.55"/>
<rect x="119.3" y="160.6" width="6" height="2" fill="#555" opacity="0.55"/>
<rect x="150.5" y="160.1" width="4" height="3" rx="1.5" fill="#fff" stroke="#999" stroke-width="0.6"/>
<rect x="174.3" y="143.3" width="20" height="2" fill="#555" opacity="0.5"/>
<rect x="174.3" y="159.2" width="23" height="2" fill="#555" opacity="0.5"/><rect x="174.3" y="162.6" width="22" height="2" fill="#555" opacity="0.5"/>
<rect x="216.5" y="130" width="1.5" height="12" fill="#c4c6cb"/>
<rect x="226" y="25" width="71" height="143" fill="#f6f7f9"/>
<rect x="226" y="25" width="0.6" height="143" fill="#e8e9ec"/>
<rect x="229" y="27.7" width="6" height="2" fill="#555" opacity="0.55"/>
<rect x="229" y="34.6" width="11" height="2" fill="#555" opacity="0.55"/>
<rect x="229" y="42.1" width="24" height="2" fill="#777" opacity="0.55"/>
<rect x="229" y="48.4" width="27" height="2" fill="#777" opacity="0.55"/>
<rect x="229" y="56.9" width="11" height="2" fill="#555" opacity="0.55"/>
<rect x="229" y="64.3" width="18" height="2" fill="#555" opacity="0.55"/>
<rect x="229" y="76.2" width="14" height="2" fill="#555" opacity="0.55"/>
<rect x="229" y="81.6" width="20" height="2" fill="#888" opacity="0.55"/>
<rect x="229" y="86.8" width="10" height="2" fill="#aaa" opacity="0.55"/>
<rect x="229" y="96.1" width="16" height="2" fill="#555" opacity="0.55"/>
<rect x="229" y="103.5" width="14" height="2" fill="#555" opacity="0.55"/>
<rect x="229" y="109.5" width="6" height="2" fill="#555" opacity="0.55"/>
<rect x="229" y="118.9" width="16" height="2" fill="#555" opacity="0.55"/>
<rect x="229" y="125.9" width="13" height="2" fill="#555" opacity="0.55"/>
<rect x="229" y="131.7" width="26" height="2" fill="#888" opacity="0.55"/>
<rect x="229" y="136.8" width="6" height="2" fill="#555" opacity="0.55"/>
<rect x="229" y="145.8" width="11" height="2" fill="#555" opacity="0.55"/>
<rect x="228.5" y="69.6" width="25" height="4.2" fill="#dbeafb"/><rect x="230" y="70.8" width="14" height="1.8" fill="#3a78e8" opacity="0.6"/>
<rect x="228" y="86" width="64" height="4.5" fill="#ffffff"/>
<rect x="228" y="108.5" width="64" height="4.5" fill="#ffffff"/>
<rect x="228" y="136" width="64" height="4.5" fill="#ffffff"/>
<rect x="229" y="108.2" width="5" height="2" fill="#555" opacity="0.55"/><rect x="229" y="135.8" width="4" height="2" fill="#555" opacity="0.55"/>
<rect x="291" y="34.800000000000004" width="1.6" height="1.6" fill="#aaa" opacity="0.6"/>
<rect x="291" y="57.1" width="1.6" height="1.6" fill="#aaa" opacity="0.6"/>
<rect x="291" y="96.3" width="1.6" height="1.6" fill="#aaa" opacity="0.6"/>
<rect x="291" y="119.10000000000001" width="1.6" height="1.6" fill="#aaa" opacity="0.6"/>
<rect x="291" y="146.0" width="1.6" height="1.6" fill="#aaa" opacity="0.6"/>
<rect x="0" y="167" width="297" height="1" fill="#eceef2"/>
</svg></div>
<!-- window 2: console -->
<div class="win" id="w2" style="left:1097px;top:78px;width:298px;height:168px;border-radius:5px;">
<svg width="298" height="168" viewBox="0 0 298 168" style="display:block">
<defs>
  <linearGradient id="cbg" x1="0" y1="0" x2="1" y2="1">
    <stop offset="0" stop-color="#0e1529"/><stop offset="1" stop-color="#0e1a36"/>
  </linearGradient>
  <linearGradient id="ccard" x1="0" y1="0" x2="0" y2="1">
    <stop offset="0" stop-color="#0f2049"/><stop offset="1" stop-color="#0c1a3d"/>
  </linearGradient>
  <linearGradient id="ctab" x1="0" y1="0" x2="1" y2="0">
    <stop offset="0" stop-color="#1d5fd6"/><stop offset="1" stop-color="#1d5fd6" stop-opacity="0.2"/>
  </linearGradient>
  <linearGradient id="cplat" x1="0" y1="0" x2="1" y2="1">
    <stop offset="0" stop-color="#2f7cf6"/><stop offset="1" stop-color="#1747c8"/>
  </linearGradient>
  <linearGradient id="ctow" x1="0" y1="0" x2="0" y2="1">
    <stop offset="0" stop-color="#4ff0ff"/><stop offset="1" stop-color="#1a8fe8"/>
  </linearGradient>
</defs>
<rect x="0" y="0" width="298" height="168" rx="5" fill="url(#cbg)"/>
<!-- top-left card -->
<path d="M14,5 H95 Q99,5 99,9 V62 Q99,67 94,67 H14 Q10,67 10,62 V24 L12,20 V9 Q12,5 14,5 Z" fill="url(#ccard)" stroke="#1a3d78" stroke-width="0.8"/>
<polygon points="13,6 45,6 40,13 13,13" fill="url(#ctab)"/>
<rect x="16" y="8" width="14" height="3" fill="#dfe8ff" opacity="0.65"/>
<circle cx="32.4" cy="36.5" r="12.6" fill="none" stroke="#1e7ef0" stroke-width="5"/>
<path d="M32.4,23.9 A12.6,12.6 0 0 1 42.5,44" fill="none" stroke="#24d5c8" stroke-width="5"/>
<path d="M21.6,30 A12.6,12.6 0 0 1 32.4,23.9" fill="none" stroke="#e5e8f3" stroke-width="5"/>
<path d="M20.4,32.5 A12.6,12.6 0 0 1 21.6,30" fill="none" stroke="#f06a4a" stroke-width="5"/>
<circle cx="32.4" cy="36.5" r="9" fill="#0b1634"/>
<text x="32.4" y="38.5" font-family="Liberation Sans" font-weight="bold" font-size="7" fill="#ffffff" text-anchor="middle">20</text>
<rect x="28" y="41" width="9" height="1.6" fill="#c9d3ee" opacity="0.7"/>
<g>
  <circle cx="56.5" cy="17" r="0.8" fill="#c9d3ee"/><rect x="59" y="15.8" width="14" height="2.4" fill="#a9b4d6" opacity="0.45"/><rect x="76" y="15.8" width="5" height="2.4" fill="#f0a030" opacity="0.8"/><rect x="89" y="15.8" width="2" height="2.4" fill="#f0a030" opacity="0.7"/>
  <circle cx="56.5" cy="25.5" r="0.8" fill="#c9d3ee"/><rect x="59" y="24.3" width="14" height="2.4" fill="#a9b4d6" opacity="0.45"/><rect x="76" y="24.3" width="6" height="2.4" fill="#2a6cf0" opacity="0.9"/><rect x="89" y="24.3" width="2" height="2.4" fill="#6fd0a0" opacity="0.7"/>
  <circle cx="56.5" cy="33.7" r="0.8" fill="#9ce070"/><rect x="59" y="32.5" width="14" height="2.4" fill="#a9b4d6" opacity="0.45"/><rect x="76" y="32.5" width="7" height="2.4" fill="#f09a30" opacity="0.9"/><rect x="88" y="32.5" width="4" height="2.4" fill="#e8b030" opacity="0.9"/>
  <circle cx="56.5" cy="41.5" r="0.8" fill="#c9d3ee"/><rect x="59" y="40.3" width="14" height="2.4" fill="#a9b4d6" opacity="0.45"/><rect x="76" y="40.3" width="6" height="2.4" fill="#f07040" opacity="0.9"/><rect x="89" y="40.3" width="2" height="2.4" fill="#f07040" opacity="0.8"/>
  <circle cx="56.5" cy="49.4" r="0.8" fill="#c9d3ee"/><rect x="59" y="48.2" width="14" height="2.4" fill="#a9b4d6" opacity="0.45"/><rect x="76" y="48.2" width="6" height="2.4" fill="#40b080" opacity="0.8"/><rect x="88" y="48.2" width="4" height="2.4" fill="#40c090" opacity="0.8"/>
</g>
<circle cx="24" cy="61" r="2.2" fill="none" stroke="#2a4f8a" stroke-width="0.8"/>
<!-- center platform -->
<polygon points="111,41 148,23 187,42 150,66" fill="#1a4bd0" opacity="0.35"/>
<polygon points="113,42 148,25 185,43 150,64" fill="url(#cplat)"/>
<polygon points="113,42 150,64 150,68 113,46" fill="#1a46c0"/>
<polygon points="150,64 185,43 185,47 150,68" fill="#2a62e0"/>
<polygon points="125,42 148,31 172,43 150,56" fill="#3f8bf8" opacity="0.8"/>
<polygon points="136,20 144,16 152,20 152,40 144,44 136,40" fill="url(#ctow)"/>
<polygon points="136,20 144,16 152,20 144,24" fill="#a8ffff"/>
<polygon points="144,12 150,9 156,12 156,34 150,37 144,34" fill="url(#ctow)"/>
<polygon points="144,12 150,9 156,12 150,15" fill="#c8ffff"/>
<polygon points="131,30 136,28 140,30 140,44 136,46 131,44" fill="#25a0f0"/>
<polygon points="155,27 160,25 164,27 164,40 160,42 155,40" fill="#2d8ef0"/>
<rect x="160" y="22" width="2.4" height="8" fill="#5a78d8"/>
<circle cx="161.2" cy="20.5" r="1.6" fill="#8aa0e8"/>
<!-- top-right card -->
<path d="M203,4.5 H285 Q290,4.5 290,9 V64 Q290,68.6 285,68.6 H203 Q199,68.6 199,64 V28 L201,24 V9 Q201,4.5 203,4.5 Z" fill="url(#ccard)" stroke="#1a3d78" stroke-width="0.8"/>
<polygon points="205,6 235,6 229,13 205,13" fill="url(#ctab)"/>
<rect x="208" y="8" width="10" height="3" fill="#dfe8ff" opacity="0.65"/>
<circle cx="223.8" cy="33.6" r="14.5" fill="none" stroke="#16345f" stroke-width="1"/>
<path d="M226,19.3 A14.5,14.5 0 1 1 209.8,38" fill="none" stroke="#1f6ff0" stroke-width="2"/>
<path d="M228,20.5 A13,13 0 0 1 236,33" fill="none" stroke="#e6ecff" stroke-width="1.6"/>
<text x="223.8" y="35.5" font-family="Liberation Sans" font-weight="bold" font-size="7" fill="#ffffff" text-anchor="middle">24</text>
<rect x="218.5" y="38" width="11" height="1.6" fill="#c9d3ee" opacity="0.7"/>
<circle cx="247.5" cy="31.3" r="0.8" fill="#c9d3ee"/><rect x="250" y="30.2" width="6" height="2.4" fill="#a9b4d6" opacity="0.45"/><rect x="260" y="30.2" width="6" height="2.4" fill="#2a6cf0" opacity="0.9"/><rect x="274" y="30.2" width="2" height="2.4" fill="#8aa2e0" opacity="0.7"/>
<circle cx="247.5" cy="40" r="0.8" fill="#c9d3ee"/><rect x="250" y="38.9" width="6" height="2.4" fill="#a9b4d6" opacity="0.45"/><rect x="260" y="38.9" width="6" height="2" fill="#b9c4e2" opacity="0.7"/><rect x="274" y="38.9" width="2" height="2" fill="#b9c4e2" opacity="0.7"/>
<rect x="258.8" y="54" width="21" height="2.4" fill="#1fa0c0" opacity="0.6"/>
<circle cx="211.5" cy="62" r="2.2" fill="none" stroke="#2a4f8a" stroke-width="0.8"/>
<!-- bottom cards -->
<g id="bc1">
  <rect x="9" y="73.5" width="88.4" height="100" rx="4" fill="url(#ccard)" stroke="#1a3d78" stroke-width="0.8"/>
  <circle cx="18" cy="85.8" r="5.6" fill="#2fbf68"/>
  <rect x="15.5" y="84" width="5" height="4" rx="1" fill="none" stroke="#d8ffe6" stroke-width="0.8"/>
  <rect x="26" y="81" width="25" height="2.4" fill="#e8eeff" opacity="0.6"/>
  <rect x="26" y="87" width="9.5" height="3" fill="#1e6b50" opacity="0.9"/>
  <rect x="38" y="87.6" width="20" height="2" fill="#8090b8" opacity="0.5"/>
  <rect x="77" y="86.6" width="16.5" height="4.4" fill="#1f62e6"/>
  <rect x="16" y="97.5" width="14" height="2.6" fill="#c8d2f0" opacity="0.55"/>
  <rect x="55" y="97.6" width="18" height="2.2" fill="#9aa6cc" opacity="0.55"/>
  <rect x="19" y="106.5" width="5" height="2.5" fill="#d8def2" opacity="0.55"/><rect x="30" y="106.5" width="4" height="2.5" fill="#c04050" opacity="0.6"/>
  <rect x="60" y="106.5" width="4" height="2.5" fill="#d8def2" opacity="0.55"/><rect x="72" y="106.5" width="4" height="2.5" fill="#d8def2" opacity="0.6"/>
  <rect x="19" y="111.8" width="5" height="2" fill="#8f9bc2" opacity="0.5"/><rect x="60" y="111.8" width="7" height="2" fill="#8f9bc2" opacity="0.5"/>
  <rect x="19" y="119.5" width="5" height="2.5" fill="#3ac090" opacity="0.8"/><rect x="31" y="119.5" width="6" height="2.5" fill="#3ac090" opacity="0.7"/>
  <rect x="60" y="119.5" width="4" height="2.5" fill="#3a6cd0" opacity="0.7"/><rect x="73" y="119.5" width="6" height="2.5" fill="#3a6cd0" opacity="0.6"/>
  <rect x="19" y="125" width="6" height="2" fill="#8f9bc2" opacity="0.5"/><rect x="60" y="125" width="10" height="2" fill="#8f9bc2" opacity="0.5"/>
  <rect x="16" y="133.5" width="20" height="2.6" fill="#d8def2" opacity="0.55"/>
  <rect x="16" y="139.5" width="37" height="2.2" fill="#9aa6cc" opacity="0.55"/>
  <path d="M81,135 A5.5,5.5 0 0 1 81,146" fill="none" stroke="#2a8ff0" stroke-width="2"/>
  <rect x="16" y="151" width="13" height="2.6" fill="#d8def2" opacity="0.55"/>
  <rect x="16" y="159.5" width="27" height="2.4" fill="#c0c8e4" opacity="0.55"/>
  <rect x="53" y="159.5" width="12" height="2.2" fill="#8f9bc2" opacity="0.45"/>
  <rect x="76" y="159.5" width="10" height="2.4" fill="#2fb070" opacity="0.6"/>
</g>
<use href="#bc1" x="94.5"/>
<g id="bc3">
  <rect x="199" y="73.5" width="90.6" height="100" rx="4" fill="url(#ccard)" stroke="#1a3d78" stroke-width="0.8"/>
  <circle cx="208.5" cy="85.8" r="5.6" fill="#4a5066"/>
  <rect x="216" y="81" width="25" height="2.4" fill="#e8eeff" opacity="0.7"/>
  <rect x="216" y="87" width="9.5" height="3" fill="#3a4158" opacity="0.9"/>
  <rect x="228" y="87.6" width="20" height="2" fill="#8090b8" opacity="0.5"/>
  <rect x="268" y="86.6" width="16.5" height="4.4" fill="#1a46b0"/>
  <rect x="206" y="97.5" width="14" height="2.6" fill="#c8d2f0" opacity="0.55"/>
  <rect x="245" y="97.6" width="18" height="2.2" fill="#9aa6cc" opacity="0.55"/>
  <rect x="209" y="106.5" width="5" height="2.5" fill="#d8def2" opacity="0.55"/><rect x="220" y="106.5" width="4" height="2.5" fill="#c04050" opacity="0.6"/>
  <rect x="250" y="106.5" width="4" height="2.5" fill="#d8def2" opacity="0.55"/><rect x="262" y="106.5" width="4" height="2.5" fill="#d8def2" opacity="0.6"/>
  <rect x="209" y="111.8" width="5" height="2" fill="#8f9bc2" opacity="0.5"/><rect x="250" y="111.8" width="7" height="2" fill="#8f9bc2" opacity="0.5"/>
  <rect x="209" y="119.5" width="5" height="2.5" fill="#3ac090" opacity="0.8"/><rect x="221" y="119.5" width="6" height="2.5" fill="#3ac090" opacity="0.7"/>
  <rect x="250" y="119.5" width="4" height="2.5" fill="#3a6cd0" opacity="0.7"/><rect x="263" y="119.5" width="6" height="2.5" fill="#3a6cd0" opacity="0.6"/>
  <rect x="209" y="125" width="6" height="2" fill="#8f9bc2" opacity="0.5"/><rect x="250" y="125" width="10" height="2" fill="#8f9bc2" opacity="0.5"/>
  <rect x="206" y="134.5" width="24" height="2.6" fill="#d8def2" opacity="0.55"/>
  <rect x="206" y="140.5" width="37" height="2.2" fill="#9aa6cc" opacity="0.55"/>
  <path d="M272,135 A5.5,5.5 0 0 1 278,140" fill="none" stroke="#22b8d0" stroke-width="2"/>
  <rect x="206" y="151" width="13" height="2.6" fill="#d8def2" opacity="0.55"/>
  <rect x="206" y="159.5" width="27" height="2.4" fill="#c0c8e4" opacity="0.55"/>
  <rect x="243" y="159.5" width="12" height="2.2" fill="#8f9bc2" opacity="0.45"/>
  <rect x="266" y="159.5" width="14" height="2.4" fill="#2a7ad0" opacity="0.6"/>
</g>
</svg>
</div>
<!-- window 3: AI -->
<div class="win" id="w3" style="left:122px;top:413px;width:297px;height:168px;background:#fff;border-radius:5px;">
<svg width="297" height="168" viewBox="0 0 297 168" style="display:block">
<defs><linearGradient id="aib" x1="0" y1="0" x2="1" y2="0"><stop offset="0" stop-color="#4678e6"/><stop offset="1" stop-color="#405ae0"/></linearGradient><linearGradient id="ath" x1="0" y1="0" x2="1" y2="0"><stop offset="0" stop-color="#eceef1"/><stop offset="0.5" stop-color="#f5f6f8"/><stop offset="1" stop-color="#eceef1"/></linearGradient></defs>
<rect x="0" y="0" width="297" height="168" fill="#fafbfc"/>
<path d="M5,0 H31 V168 H5 Q0,168 0,163 V5 Q0,0 5,0 Z" fill="#252834"/>
<rect x="6" y="1.7" width="3" height="4" fill="#4a6cf0"/><rect x="10.4" y="2.2" width="15" height="2.4" fill="#e8ecf8" opacity="0.8"/><rect x="10.4" y="5.2" width="14" height="0.8" fill="#aab" opacity="0.5"/>
<rect x="3.4" y="9.6" width="8" height="1.8" fill="#8a8fa0" opacity="0.55"/>
<rect x="3.4" y="22.1" width="8" height="1.8" fill="#8a8fa0" opacity="0.55"/>
<rect x="3.4" y="83.1" width="8" height="1.8" fill="#8a8fa0" opacity="0.55"/>
<rect x="3.4" y="116.3" width="8" height="1.8" fill="#8a8fa0" opacity="0.55"/>
<rect x="7.3" y="15.7" width="2.4" height="2.4" fill="none" stroke="#b8bccc" stroke-width="0.5"/><rect x="11.5" y="15.899999999999999" width="9" height="2" fill="#c8ccd8" opacity="0.6"/>
<rect x="7.3" y="28.7" width="2.4" height="2.4" fill="none" stroke="#b8bccc" stroke-width="0.5"/><rect x="11.5" y="28.9" width="9" height="2" fill="#c8ccd8" opacity="0.6"/>
<rect x="7.3" y="42.0" width="2.4" height="2.4" fill="none" stroke="#b8bccc" stroke-width="0.5"/><rect x="11.5" y="42.2" width="9" height="2" fill="#c8ccd8" opacity="0.6"/>
<rect x="7.3" y="49.0" width="2.4" height="2.4" fill="none" stroke="#b8bccc" stroke-width="0.5"/><rect x="11.5" y="49.2" width="9" height="2" fill="#c8ccd8" opacity="0.6"/>
<rect x="7.3" y="55.9" width="2.4" height="2.4" fill="none" stroke="#b8bccc" stroke-width="0.5"/><rect x="11.5" y="56.1" width="9" height="2" fill="#c8ccd8" opacity="0.6"/>
<rect x="7.3" y="62.5" width="2.4" height="2.4" fill="none" stroke="#b8bccc" stroke-width="0.5"/><rect x="11.5" y="62.7" width="9" height="2" fill="#c8ccd8" opacity="0.6"/>
<rect x="7.3" y="69.5" width="2.4" height="2.4" fill="none" stroke="#b8bccc" stroke-width="0.5"/><rect x="11.5" y="69.7" width="9" height="2" fill="#c8ccd8" opacity="0.6"/>
<rect x="7.3" y="76.39999999999999" width="2.4" height="2.4" fill="none" stroke="#b8bccc" stroke-width="0.5"/><rect x="11.5" y="76.6" width="9" height="2" fill="#c8ccd8" opacity="0.6"/>
<rect x="7.3" y="88.8" width="2.4" height="2.4" fill="none" stroke="#b8bccc" stroke-width="0.5"/><rect x="11.5" y="89" width="9" height="2" fill="#c8ccd8" opacity="0.6"/>
<rect x="7.3" y="95.8" width="2.4" height="2.4" fill="none" stroke="#b8bccc" stroke-width="0.5"/><rect x="11.5" y="96" width="9" height="2" fill="#c8ccd8" opacity="0.6"/>
<rect x="7.3" y="102.7" width="2.4" height="2.4" fill="none" stroke="#b8bccc" stroke-width="0.5"/><rect x="11.5" y="102.9" width="9" height="2" fill="#c8ccd8" opacity="0.6"/>
<rect x="7.3" y="109.6" width="2.4" height="2.4" fill="none" stroke="#b8bccc" stroke-width="0.5"/><rect x="11.5" y="109.8" width="9" height="2" fill="#c8ccd8" opacity="0.6"/>
<rect x="7.3" y="122.39999999999999" width="2.4" height="2.4" fill="none" stroke="#b8bccc" stroke-width="0.5"/><rect x="11.5" y="122.6" width="9" height="2" fill="#c8ccd8" opacity="0.6"/>
<rect x="1.6" y="34.5" width="29" height="4.8" fill="#343845"/><rect x="10.4" y="36" width="13" height="2" fill="#e0e4ee" opacity="0.8"/>
<rect x="9" y="41.5" width="13" height="1.6" fill="#9aa0b0" opacity="0.5"/>
<rect x="27" y="29.3" width="1" height="1.2" fill="#889"/>
<rect x="31" y="0" width="266" height="8.5" fill="#ffffff"/>
<rect x="33.7" y="2.6" width="10" height="2" fill="#555" opacity="0.5"/><rect x="46" y="2.6" width="12.6" height="2" fill="#555" opacity="0.5"/>
<circle cx="277" cy="3.6" r="1" fill="none" stroke="#999" stroke-width="0.4"/><rect x="279" y="2.6" width="13" height="2" fill="#555" opacity="0.45"/>
<rect x="31" y="8.5" width="266" height="0.5" fill="#eef0f3"/>
<rect x="34.2" y="10.2" width="260.6" height="18.6" fill="url(#aib)"/>
<rect x="37.9" y="15" width="16.6" height="2.2" fill="#ffffff" opacity="0.85"/><rect x="37.9" y="19.3" width="91" height="1.6" fill="#e0e8ff" opacity="0.7"/><rect x="37.9" y="22.9" width="73" height="1.6" fill="#e0e8ff" opacity="0.7"/>
<polygon points="264,16 271,19 271,28.8 264,28.8" fill="#e8f4ff" opacity="0.85"/>
<polygon points="276,12 286,16 286,25 276,21" fill="#d8f5ee" opacity="0.9"/><circle cx="278" cy="14.5" r="0.9" fill="#3ac070"/>
<polygon points="270,22 280,19 290,24 280,28" fill="#cfe6ff" opacity="0.8"/>
<polygon points="285,10.2 294.8,10.2 294.8,28.8 292,28.8" fill="#3346d8" opacity="0.6"/>
<rect x="37.9" y="35.6" width="15" height="2.6" fill="#333" opacity="0.7"/>
<rect x="224.9" y="34.6" width="41.5" height="4.6" fill="#ffffff" stroke="#eceef2" stroke-width="0.5"/><rect x="227" y="36" width="14" height="1.6" fill="#ccc" opacity="0.6"/>
<rect x="269.2" y="34.4" width="22" height="5.2" fill="#e8f3ff"/><rect x="273" y="36.2" width="14" height="1.6" fill="#3a80e8" opacity="0.6"/>
<rect x="37.9" y="45.4" width="11.6" height="4" rx="1" fill="#dce8ff"/><rect x="39.5" y="46.6" width="8" height="1.6" fill="#4a7ef0" opacity="0.7"/>
<rect x="52.3" y="45.4" width="9.9" height="4" fill="#f0f1f4"/><rect x="53.5" y="46.6" width="7.5" height="1.6" fill="#666" opacity="0.5"/>
<rect x="66.4" y="45.4" width="10.8" height="4" fill="#f0f1f4"/><rect x="67.5" y="46.6" width="8.5" height="1.6" fill="#666" opacity="0.5"/>
<rect x="252.5" y="46.4" width="16.7" height="1.8" fill="#555" opacity="0.5"/><rect x="276" y="46.4" width="12.5" height="1.8" fill="#555" opacity="0.5"/>
<rect x="39.5" y="52.2" width="31.5" height="41.2" fill="#ffffff"/>
<rect x="40.5" y="53.2" width="29.5" height="26.2" fill="url(#ath)"/>
<rect x="47.25" y="55.7" width="16" height="22.2" fill="#ffffff"/>
<rect x="46.75" y="55.7" width="17" height="4.5" fill="#f5cf4a"/>
<rect x="49.75" y="61.2" width="7" height="0.8" fill="#999" opacity="0.35"/>
<rect x="49.75" y="64.2" width="11" height="0.8" fill="#999" opacity="0.35"/>
<rect x="49.75" y="67.2" width="11" height="0.8" fill="#999" opacity="0.35"/>
<rect x="49.75" y="70.2" width="7" height="0.8" fill="#999" opacity="0.35"/>
<rect x="49.75" y="73.2" width="9" height="0.8" fill="#999" opacity="0.35"/>
<rect x="41.5" y="84.2" width="13" height="2.2" fill="#333" opacity="0.6"/>
<rect x="43.5" y="88.3" width="13" height="1.6" fill="#888" opacity="0.45"/>
<rect x="75.5" y="52.2" width="31.5" height="41.2" fill="#ffffff"/>
<rect x="76.5" y="53.2" width="29.5" height="26.2" fill="url(#ath)"/>
<rect x="83.25" y="55.7" width="16" height="22.2" fill="#ffffff"/>
<circle cx="91.25" cy="61.2" r="2" fill="#d84a2a"/><rect x="86.25" y="66.2" width="10" height="1.6" fill="#444" opacity="0.6"/>
<rect x="85.75" y="71.5" width="11" height="0.6" fill="#bbb" opacity="0.5"/>
<rect x="77.5" y="84.0" width="2" height="2" fill="#e05050" opacity="0.8"/>
<rect x="80.0" y="84.2" width="9" height="2.2" fill="#333" opacity="0.6"/>
<rect x="79.5" y="88.3" width="13" height="1.6" fill="#888" opacity="0.45"/>
<rect x="111.5" y="52.2" width="31.5" height="41.2" fill="#ffffff"/>
<rect x="112.5" y="53.2" width="29.5" height="26.2" fill="url(#ath)"/>
<rect x="119.25" y="55.7" width="16" height="22.2" fill="#ffffff"/>
<rect x="121.75" y="61.2" width="9" height="0.8" fill="#999" opacity="0.35"/>
<rect x="121.75" y="64.2" width="9" height="0.8" fill="#999" opacity="0.35"/>
<rect x="121.75" y="67.2" width="11" height="0.8" fill="#999" opacity="0.35"/>
<rect x="121.75" y="70.2" width="7" height="0.8" fill="#999" opacity="0.35"/>
<rect x="121.75" y="73.2" width="7" height="0.8" fill="#999" opacity="0.35"/>
<rect x="113.5" y="84.0" width="2" height="2" fill="#e05050" opacity="0.8"/>
<rect x="116.0" y="84.2" width="13" height="2.2" fill="#333" opacity="0.6"/>
<rect x="115.5" y="88.3" width="13" height="1.6" fill="#888" opacity="0.45"/>
<rect x="147.5" y="52.2" width="31.5" height="41.2" fill="#ffffff"/>
<rect x="148.5" y="53.2" width="29.5" height="26.2" fill="url(#ath)"/>
<rect x="155.25" y="55.7" width="16" height="22.2" fill="#ffffff"/>
<rect x="157.75" y="61.2" width="9" height="0.8" fill="#999" opacity="0.35"/>
<rect x="157.75" y="64.2" width="11" height="0.8" fill="#999" opacity="0.35"/>
<rect x="157.75" y="67.2" width="11" height="0.8" fill="#999" opacity="0.35"/>
<rect x="157.75" y="70.2" width="9" height="0.8" fill="#999" opacity="0.35"/>
<rect x="157.75" y="73.2" width="9" height="0.8" fill="#999" opacity="0.35"/>
<rect x="149.5" y="84.0" width="2" height="2" fill="#e05050" opacity="0.8"/>
<rect x="152.0" y="84.2" width="13" height="2.2" fill="#333" opacity="0.6"/>
<rect x="151.5" y="88.3" width="13" height="1.6" fill="#888" opacity="0.45"/>
<rect x="183.5" y="52.2" width="31.5" height="41.2" fill="#ffffff"/>
<rect x="184.5" y="53.2" width="29.5" height="26.2" fill="url(#ath)"/>
<rect x="191.25" y="55.7" width="16" height="22.2" fill="#ffffff"/>
<rect x="193.75" y="61.2" width="7" height="0.8" fill="#999" opacity="0.35"/>
<rect x="193.75" y="64.2" width="7" height="0.8" fill="#999" opacity="0.35"/>
<rect x="193.75" y="67.2" width="11" height="0.8" fill="#999" opacity="0.35"/>
<rect x="193.75" y="70.2" width="7" height="0.8" fill="#999" opacity="0.35"/>
<rect x="193.75" y="73.2" width="11" height="0.8" fill="#999" opacity="0.35"/>
<rect x="185.5" y="84.0" width="2" height="2" fill="#e05050" opacity="0.8"/>
<rect x="188.0" y="84.2" width="11" height="2.2" fill="#333" opacity="0.6"/>
<rect x="187.5" y="88.3" width="13" height="1.6" fill="#888" opacity="0.45"/>
<rect x="219.5" y="52.2" width="31.5" height="41.2" fill="#ffffff"/>
<rect x="220.5" y="53.2" width="29.5" height="26.2" fill="url(#ath)"/>
<rect x="227.25" y="55.7" width="16" height="22.2" fill="#ffffff"/>
<rect x="229.75" y="61.2" width="11" height="0.8" fill="#999" opacity="0.35"/>
<rect x="229.75" y="64.2" width="7" height="0.8" fill="#999" opacity="0.35"/>
<rect x="229.75" y="67.2" width="11" height="0.8" fill="#999" opacity="0.35"/>
<rect x="229.75" y="70.2" width="7" height="0.8" fill="#999" opacity="0.35"/>
<rect x="229.75" y="73.2" width="7" height="0.8" fill="#999" opacity="0.35"/>
<rect x="221.5" y="84.2" width="13" height="2.2" fill="#333" opacity="0.6"/>
<rect x="223.5" y="88.3" width="13" height="1.6" fill="#888" opacity="0.45"/>
<rect x="255.5" y="52.2" width="31.5" height="41.2" fill="#ffffff"/>
<rect x="256.5" y="53.2" width="29.5" height="26.2" fill="url(#ath)"/>
<rect x="263.25" y="55.7" width="16" height="22.2" fill="#ffffff"/>
<rect x="265.75" y="61.2" width="7" height="0.8" fill="#999" opacity="0.35"/>
<rect x="265.75" y="64.2" width="9" height="0.8" fill="#999" opacity="0.35"/>
<rect x="265.75" y="67.2" width="7" height="0.8" fill="#999" opacity="0.35"/>
<rect x="265.75" y="70.2" width="9" height="0.8" fill="#999" opacity="0.35"/>
<rect x="265.75" y="73.2" width="9" height="0.8" fill="#999" opacity="0.35"/>
<rect x="257.5" y="84.0" width="2" height="2" fill="#e05050" opacity="0.8"/>
<rect x="260.0" y="84.2" width="13" height="2.2" fill="#333" opacity="0.6"/>
<rect x="259.5" y="88.3" width="13" height="1.6" fill="#888" opacity="0.45"/>
<rect x="39.5" y="96.8" width="31.5" height="39.9" fill="#ffffff"/>
<rect x="40.5" y="97.8" width="29.5" height="24.9" fill="url(#ath)"/>
<rect x="47.25" y="100.3" width="16" height="20.9" fill="#ffffff"/>
<rect x="49.75" y="105.8" width="11" height="0.8" fill="#999" opacity="0.35"/>
<rect x="49.75" y="108.8" width="9" height="0.8" fill="#999" opacity="0.35"/>
<rect x="49.75" y="111.8" width="11" height="0.8" fill="#999" opacity="0.35"/>
<rect x="49.75" y="114.8" width="9" height="0.8" fill="#999" opacity="0.35"/>
<rect x="49.75" y="117.8" width="9" height="0.8" fill="#999" opacity="0.35"/>
<rect x="41.5" y="127.5" width="13" height="2.2" fill="#333" opacity="0.6"/>
<rect x="43.5" y="131.6" width="13" height="1.6" fill="#888" opacity="0.45"/>
<rect x="75.5" y="96.8" width="31.5" height="39.9" fill="#ffffff"/>
<rect x="76.5" y="97.8" width="29.5" height="24.9" fill="url(#ath)"/>
<rect x="83.25" y="100.3" width="16" height="20.9" fill="#ffffff"/>
<rect x="87.25" y="101.8" width="8" height="1" fill="#e04040" opacity="0.8"/>
<rect x="85.75" y="105.8" width="11" height="0.8" fill="#999" opacity="0.35"/>
<rect x="85.75" y="108.8" width="9" height="0.8" fill="#999" opacity="0.35"/>
<rect x="85.75" y="111.8" width="7" height="0.8" fill="#999" opacity="0.35"/>
<rect x="85.75" y="114.8" width="9" height="0.8" fill="#999" opacity="0.35"/>
<rect x="85.75" y="117.8" width="7" height="0.8" fill="#999" opacity="0.35"/>
<rect x="77.5" y="127.3" width="2" height="2" fill="#e05050" opacity="0.8"/>
<rect x="80.0" y="127.5" width="9" height="2.2" fill="#333" opacity="0.6"/>
<rect x="79.5" y="131.6" width="13" height="1.6" fill="#888" opacity="0.45"/>
<rect x="111.5" y="96.8" width="31.5" height="39.9" fill="#ffffff"/>
<rect x="112.5" y="97.8" width="29.5" height="24.9" fill="#e4efff"/>
<rect x="122.25" y="108.8" width="12" height="0.6" fill="#8ab0e8"/><rect x="127.75" y="110.8" width="0.8" height="4" fill="#6a90d0"/>
<rect x="113.5" y="127.5" width="9" height="2.2" fill="#333" opacity="0.6"/>
<rect x="115.5" y="131.6" width="13" height="1.6" fill="#888" opacity="0.45"/>
<rect x="147.5" y="96.8" width="31.5" height="39.9" fill="#ffffff"/>
<rect x="148.5" y="97.8" width="29.5" height="24.9" fill="url(#ath)"/>
<rect x="155.25" y="100.3" width="16" height="20.9" fill="#ffffff"/>
<rect x="157.75" y="105.8" width="9" height="0.8" fill="#999" opacity="0.35"/>
<rect x="157.75" y="108.8" width="7" height="0.8" fill="#999" opacity="0.35"/>
<rect x="157.75" y="111.8" width="9" height="0.8" fill="#999" opacity="0.35"/>
<rect x="157.75" y="114.8" width="11" height="0.8" fill="#999" opacity="0.35"/>
<rect x="157.75" y="117.8" width="9" height="0.8" fill="#999" opacity="0.35"/>
<rect x="149.5" y="127.5" width="13" height="2.2" fill="#333" opacity="0.6"/>
<rect x="151.5" y="131.6" width="13" height="1.6" fill="#888" opacity="0.45"/>
<rect x="183.5" y="96.8" width="31.5" height="39.9" fill="#ffffff"/>
<rect x="184.5" y="97.8" width="29.5" height="24.9" fill="url(#ath)"/>
<rect x="191.25" y="100.3" width="16" height="20.9" fill="#ffffff"/>
<rect x="193.75" y="105.8" width="9" height="0.8" fill="#999" opacity="0.35"/>
<rect x="193.75" y="108.8" width="9" height="0.8" fill="#999" opacity="0.35"/>
<rect x="193.75" y="111.8" width="11" height="0.8" fill="#999" opacity="0.35"/>
<rect x="193.75" y="114.8" width="9" height="0.8" fill="#999" opacity="0.35"/>
<rect x="193.75" y="117.8" width="11" height="0.8" fill="#999" opacity="0.35"/>
<rect x="185.5" y="127.5" width="11" height="2.2" fill="#333" opacity="0.6"/>
<rect x="187.5" y="131.6" width="13" height="1.6" fill="#888" opacity="0.45"/>
<rect x="219.5" y="96.8" width="31.5" height="39.9" fill="#ffffff"/>
<rect x="220.5" y="97.8" width="29.5" height="24.9" fill="url(#ath)"/>
<rect x="227.25" y="100.3" width="16" height="20.9" fill="#ffffff"/>
<rect x="229.75" y="105.8" width="11" height="0.8" fill="#999" opacity="0.35"/>
<rect x="229.75" y="108.8" width="11" height="0.8" fill="#999" opacity="0.35"/>
<rect x="229.75" y="111.8" width="9" height="0.8" fill="#999" opacity="0.35"/>
<rect x="229.75" y="114.8" width="11" height="0.8" fill="#999" opacity="0.35"/>
<rect x="229.75" y="117.8" width="7" height="0.8" fill="#999" opacity="0.35"/>
<rect x="221.5" y="127.5" width="11" height="2.2" fill="#333" opacity="0.6"/>
<rect x="223.5" y="131.6" width="13" height="1.6" fill="#888" opacity="0.45"/>
<rect x="255.5" y="96.8" width="31.5" height="39.9" fill="#ffffff"/>
<rect x="256.5" y="97.8" width="29.5" height="24.9" fill="url(#ath)"/>
<rect x="263.25" y="100.3" width="16" height="20.9" fill="#ffffff"/>
<rect x="263.25" y="100.3" width="16" height="20.9" fill="none" stroke="#f0a020" stroke-width="0.9"/>
<rect x="265.75" y="105.8" width="11" height="0.8" fill="#999" opacity="0.35"/>
<rect x="265.75" y="108.8" width="7" height="0.8" fill="#999" opacity="0.35"/>
<rect x="265.75" y="111.8" width="9" height="0.8" fill="#999" opacity="0.35"/>
<rect x="265.75" y="114.8" width="11" height="0.8" fill="#999" opacity="0.35"/>
<rect x="265.75" y="117.8" width="11" height="0.8" fill="#999" opacity="0.35"/>
<rect x="257.5" y="127.5" width="13" height="2.2" fill="#333" opacity="0.6"/>
<rect x="259.5" y="131.6" width="13" height="1.6" fill="#888" opacity="0.45"/>
<rect x="39.5" y="138.4" width="31.5" height="28.3" fill="#ffffff"/>
<rect x="40.5" y="139.4" width="29.5" height="26.3" fill="url(#ath)"/>
<rect x="47.25" y="141.9" width="16" height="22.3" fill="#ffffff"/>
<rect x="51.25" y="143.4" width="8" height="1" fill="#e04040" opacity="0.8"/>
<rect x="49.75" y="147.4" width="7" height="0.8" fill="#999" opacity="0.35"/>
<rect x="49.75" y="150.4" width="11" height="0.8" fill="#999" opacity="0.35"/>
<rect x="49.75" y="153.4" width="9" height="0.8" fill="#999" opacity="0.35"/>
<rect x="49.75" y="156.4" width="11" height="0.8" fill="#999" opacity="0.35"/>
<rect x="49.75" y="159.4" width="11" height="0.8" fill="#999" opacity="0.35"/>
<rect x="75.5" y="138.4" width="31.5" height="28.3" fill="#ffffff"/>
<rect x="76.5" y="139.4" width="29.5" height="26.3" fill="url(#ath)"/>
<rect x="83.25" y="141.9" width="16" height="22.3" fill="#ffffff"/>
<rect x="85.75" y="147.4" width="11" height="0.8" fill="#999" opacity="0.35"/>
<rect x="85.75" y="150.4" width="7" height="0.8" fill="#999" opacity="0.35"/>
<rect x="85.75" y="153.4" width="11" height="0.8" fill="#999" opacity="0.35"/>
<rect x="85.75" y="156.4" width="11" height="0.8" fill="#999" opacity="0.35"/>
<rect x="85.75" y="159.4" width="7" height="0.8" fill="#999" opacity="0.35"/>
<rect x="111.5" y="138.4" width="31.5" height="28.3" fill="#ffffff"/>
<rect x="112.5" y="139.4" width="29.5" height="26.3" fill="url(#ath)"/>
<rect x="119.25" y="141.9" width="16" height="22.3" fill="#ffffff"/>
<rect x="121.75" y="147.4" width="11" height="0.8" fill="#999" opacity="0.35"/>
<rect x="121.75" y="150.4" width="11" height="0.8" fill="#999" opacity="0.35"/>
<rect x="121.75" y="153.4" width="9" height="0.8" fill="#999" opacity="0.35"/>
<rect x="121.75" y="156.4" width="9" height="0.8" fill="#999" opacity="0.35"/>
<rect x="121.75" y="159.4" width="7" height="0.8" fill="#999" opacity="0.35"/>
<rect x="147.5" y="138.4" width="31.5" height="28.3" fill="#ffffff"/>
<rect x="148.5" y="139.4" width="29.5" height="26.3" fill="url(#ath)"/>
<rect x="155.25" y="141.9" width="16" height="22.3" fill="#ffffff"/>
<rect x="157.75" y="147.4" width="7" height="0.8" fill="#999" opacity="0.35"/>
<rect x="157.75" y="150.4" width="9" height="0.8" fill="#999" opacity="0.35"/>
<rect x="157.75" y="153.4" width="11" height="0.8" fill="#999" opacity="0.35"/>
<rect x="157.75" y="156.4" width="9" height="0.8" fill="#999" opacity="0.35"/>
<rect x="157.75" y="159.4" width="7" height="0.8" fill="#999" opacity="0.35"/>
<rect x="183.5" y="138.4" width="31.5" height="28.3" fill="#ffffff"/>
<rect x="184.5" y="139.4" width="29.5" height="26.3" fill="url(#ath)"/>
<rect x="191.25" y="141.9" width="16" height="22.3" fill="#ffffff"/>
<rect x="195.25" y="156.70000000000002" width="7" height="4" fill="#c8102e"/>
<rect x="193.75" y="147.4" width="9" height="0.8" fill="#999" opacity="0.35"/>
<rect x="193.75" y="150.4" width="7" height="0.8" fill="#999" opacity="0.35"/>
<rect x="193.75" y="153.4" width="9" height="0.8" fill="#999" opacity="0.35"/>
<rect x="193.75" y="156.4" width="7" height="0.8" fill="#999" opacity="0.35"/>
<rect x="193.75" y="159.4" width="7" height="0.8" fill="#999" opacity="0.35"/>
<rect x="219.5" y="138.4" width="31.5" height="28.3" fill="#ffffff"/>
<rect x="220.5" y="139.4" width="29.5" height="26.3" fill="url(#ath)"/>
<rect x="227.25" y="141.9" width="16" height="22.3" fill="#ffffff"/>
<circle cx="235.25" cy="152.4" r="4" fill="none" stroke="#f0a0b0" stroke-width="1.2"/>
<rect x="229.75" y="147.4" width="9" height="0.8" fill="#999" opacity="0.35"/>
<rect x="229.75" y="150.4" width="9" height="0.8" fill="#999" opacity="0.35"/>
<rect x="229.75" y="153.4" width="9" height="0.8" fill="#999" opacity="0.35"/>
<rect x="229.75" y="156.4" width="7" height="0.8" fill="#999" opacity="0.35"/>
<rect x="229.75" y="159.4" width="7" height="0.8" fill="#999" opacity="0.35"/>
<rect x="255.5" y="138.4" width="31.5" height="28.3" fill="#ffffff"/>
<rect x="256.5" y="139.4" width="29.5" height="26.3" fill="url(#ath)"/>
<rect x="263.25" y="141.9" width="16" height="22.3" fill="#ffffff"/>
<rect x="265.75" y="147.4" width="11" height="0.8" fill="#999" opacity="0.35"/>
<rect x="265.75" y="150.4" width="11" height="0.8" fill="#999" opacity="0.35"/>
<rect x="265.75" y="153.4" width="7" height="0.8" fill="#999" opacity="0.35"/>
<rect x="265.75" y="156.4" width="9" height="0.8" fill="#999" opacity="0.35"/>
<rect x="265.75" y="159.4" width="11" height="0.8" fill="#999" opacity="0.35"/>
<rect x="296" y="52" width="1" height="113" fill="#cfd1d6"/>
</svg></div>
<!-- window 4: robot -->
<div class="win" id="w4" style="left:1097px;top:410px;width:297px;height:175px;background:#fff;border-radius:4px;">
<svg width="297" height="175" viewBox="0 0 297 175" style="display:block">
<defs><linearGradient id="rsec" x1="0" y1="0" x2="1" y2="0"><stop offset="0" stop-color="#f8f8f9"/><stop offset="0.5" stop-color="#f3f3f5"/><stop offset="1" stop-color="#f6f6f7"/></linearGradient></defs>
<rect x="0" y="0" width="297" height="175" fill="#ffffff"/>
<path d="M5,0 H21.4 V175 H0 V5 Q0,0 5,0 Z" fill="#117cf0"/>
<path d="M8.3,15.5 L11.1,12.8 L13.9,15.5 V18 H8.3 Z" fill="none" stroke="#e8f1ff" stroke-width="1"/>
<rect x="8.6" y="21.6" width="5" height="2" fill="#e8f1ff" opacity="0.8"/>
<circle cx="11.1" cy="34.4" r="2.2" fill="none" stroke="#e8f1ff" stroke-width="1.1"/><circle cx="11.1" cy="34.4" r="3.2" fill="none" stroke="#e8f1ff" stroke-width="0.6" stroke-dasharray="1 1"/>
<rect x="8.6" y="40.6" width="5" height="2" fill="#e8f1ff" opacity="0.7"/>
<rect x="3.2" y="156.3" width="15.3" height="2.4" fill="#e8f1ff" opacity="0.8"/>
<rect x="3.6" y="160.8" width="14.5" height="5" fill="none" stroke="#e8f1ff" stroke-width="0.6"/><rect x="6" y="162.3" width="9.5" height="2" fill="#e8f1ff" opacity="0.7"/>
<circle cx="32.1" cy="6.3" r="3.4" fill="#2fbf45"/><circle cx="32.1" cy="6.3" r="1.4" fill="none" stroke="#d8ffe0" stroke-width="0.6"/>
<rect x="37.4" y="5.3" width="15.6" height="2.2" fill="#999" opacity="0.5"/>
<rect x="60.3" y="2.9" width="14.5" height="6.5" fill="#e8f8e6" stroke="#c8ecc4" stroke-width="0.5"/><rect x="63.5" y="5.3" width="7" height="1.8" fill="#6ab86a" opacity="0.6"/>
<rect x="250.20000000000002" y="5" width="2.4" height="2.4" fill="none" stroke="#aaa" stroke-width="0.5" opacity="0.8"/>
<rect x="264.40000000000003" y="5" width="2.4" height="2.4" fill="none" stroke="#aaa" stroke-width="0.5" opacity="0.8"/>
<rect x="278.3" y="5" width="2.4" height="2.4" fill="none" stroke="#aaa" stroke-width="0.5" opacity="0.8"/>
<rect x="291.3" y="5" width="2.4" height="2.4" fill="none" stroke="#aaa" stroke-width="0.5" opacity="0.8"/>
<rect x="28.2" y="16" width="255" height="14.4" fill="url(#rsec)"/>
<path d="M36.4,21 v3 l2.6,1.5 M37.2,26 h3" fill="none" stroke="#3a86f0" stroke-width="0.9"/><circle cx="37" cy="20.5" r="0.8" fill="#3a86f0"/>
<rect x="43.7" y="22.5" width="16" height="3" fill="#333" opacity="0.6"/>
<path d="M274.6,22.4 l1.5,1.5 l1.5,-1.5" fill="none" stroke="#999" stroke-width="0.6"/>
<rect x="36" y="36.9" width="15" height="2.8" fill="#999" opacity="0.4"/><rect x="143" y="36.9" width="15" height="2.8" fill="#999" opacity="0.4"/><rect x="247" y="36.9" width="7" height="2.8" fill="#999" opacity="0.4"/>
<rect x="36" y="52.3" width="10" height="3" fill="#444" opacity="0.5"/>
<rect x="143" y="52.3" width="11" height="3" fill="#444" opacity="0.5"/>
<polygon points="248.4,51.2 248.4,55.6 251.9,53.4" fill="#2a7ef0"/>
<rect x="36" y="66.7" width="18" height="3" fill="#444" opacity="0.5"/>
<rect x="143" y="66.7" width="12" height="3" fill="#444" opacity="0.5"/>
<polygon points="248.4,65.6 248.4,70.0 251.9,67.8" fill="#2a7ef0"/>
<rect x="36" y="80.80000000000001" width="19" height="3" fill="#444" opacity="0.5"/>
<rect x="143" y="80.80000000000001" width="33" height="3" fill="#444" opacity="0.5"/>
<polygon points="248.4,79.7 248.4,84.1 251.9,81.9" fill="#2a7ef0"/>
<rect x="36" y="95.0" width="15" height="3" fill="#444" opacity="0.5"/>
<rect x="143" y="95.0" width="26" height="3" fill="#444" opacity="0.5"/>
<polygon points="248.4,93.9 248.4,98.3 251.9,96.1" fill="#2a7ef0"/>
<rect x="36" y="109.4" width="11" height="3" fill="#444" opacity="0.5"/>
<rect x="143" y="109.4" width="11" height="3" fill="#444" opacity="0.5"/>
<polygon points="248.4,108.3 248.4,112.7 251.9,110.5" fill="#2a7ef0"/>
<rect x="28.2" y="132.5" width="255" height="12.8" fill="url(#rsec)"/>
<rect x="35.6" y="136.4" width="4" height="3.6" fill="none" stroke="#3a86f0" stroke-width="0.8"/>
<rect x="43.7" y="137.2" width="16" height="3" fill="#333" opacity="0.6"/>
<path d="M274.6,138 l1.5,1.5 l1.5,-1.5" fill="none" stroke="#999" stroke-width="0.6"/>
<rect x="36" y="151.5" width="15" height="2.8" fill="#999" opacity="0.4"/>
<rect x="90" y="151.5" width="15" height="2.8" fill="#999" opacity="0.4"/>
<rect x="141.7" y="151.5" width="15" height="2.8" fill="#999" opacity="0.4"/>
<rect x="187.4" y="151.5" width="10" height="2.8" fill="#999" opacity="0.4"/>
<rect x="233.2" y="151.5" width="7" height="2.8" fill="#999" opacity="0.4"/>
<rect x="36" y="167" width="10" height="3" fill="#444" opacity="0.5"/>
<rect x="90" y="167" width="11" height="2.2" fill="#333" opacity="0.75"/>
<rect x="141.7" y="167" width="34" height="2.2" fill="#444" opacity="0.55"/>
<rect x="188.8" y="165" width="20.8" height="6.2" fill="#e4f7e4"/><rect x="192" y="167" width="12" height="2" fill="#4ab04a" opacity="0.6"/>
<rect x="233.2" y="167" width="16" height="2.2" fill="#2a7ef0" opacity="0.7"/>
<rect x="285.8" y="20.5" width="3.6" height="142.5" rx="1.5" fill="#c8c9cc"/>
<rect x="293.6" y="0" width="0.6" height="175" fill="#d8dcf0"/>
</svg></div>

</body>
</html>
